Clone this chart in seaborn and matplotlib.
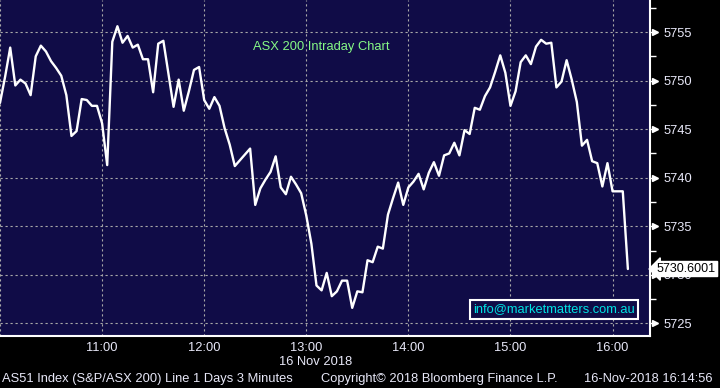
import matplotlib
matplotlib.use("Agg")
import matplotlib.pyplot as plt
import matplotlib.dates as mdates
import matplotlib.ticker as mticker
import pandas as pd
import seaborn as sns

# ---- data (3-minute bars, 16 Nov 2018) ----
times = ["10:00", "10:03", "10:06", "10:09", "10:12", "10:15", "10:18", "10:21", "10:24", "10:27",
         "10:30", "10:33", "10:36", "10:39", "10:42", "10:45", "10:48", "10:51", "10:54", "10:57",
         "11:00", "11:03", "11:06", "11:09", "11:12", "11:15", "11:18", "11:21", "11:24", "11:27",
         "11:30", "11:33", "11:36", "11:39", "11:42", "11:45", "11:48", "11:51", "11:54", "11:57",
         "12:00", "12:03", "12:06", "12:09", "12:12", "12:15", "12:18", "12:21", "12:24", "12:27",
         "12:30", "12:33", "12:36", "12:39", "12:42", "12:45", "12:48", "12:51", "12:54", "12:57",
         "13:00", "13:03", "13:06", "13:09", "13:12", "13:15", "13:18", "13:21", "13:24", "13:27",
         "13:30", "13:33", "13:36", "13:39", "13:42", "13:45", "13:48", "13:51", "13:54", "13:57",
         "14:00", "14:03", "14:06", "14:09", "14:12", "14:15", "14:18", "14:21", "14:24", "14:27",
         "14:30", "14:33", "14:36", "14:39", "14:42", "14:45", "14:48", "14:51", "14:54", "14:57",
         "15:00", "15:03", "15:06", "15:09", "15:12", "15:15", "15:18", "15:21", "15:24", "15:27",
         "15:30", "15:33", "15:36", "15:39", "15:42", "15:45", "15:48", "15:51", "15:54", "15:57",
         "16:00", "16:03", "16:06", "16:09"]
values = [5747.7, 5750.4, 5753.4, 5749.5, 5750.1, 5749.7, 5748.5, 5752.5, 5753.6, 5753.0,
          5752.0, 5751.3, 5750.5, 5748.5, 5744.3, 5744.8, 5748.1, 5748.0, 5747.4, 5747.4,
          5745.6, 5741.3, 5754.0, 5755.6, 5753.9, 5754.6, 5753.4, 5753.7, 5752.2, 5752.2,
          5748.8, 5753.8, 5754.1, 5750.7, 5747.3, 5750.1, 5746.9, 5748.9, 5751.1, 5751.4,
          5748.0, 5747.1, 5748.3, 5747.4, 5745.1, 5743.4, 5741.2, 5741.8, 5742.4, 5743.0,
          5737.2, 5738.9, 5739.8, 5740.6, 5742.2, 5739.0, 5738.3, 5740.1, 5739.3, 5738.4,
          5736.1, 5733.2, 5728.9, 5728.4, 5730.2, 5727.8, 5728.3, 5729.4, 5729.4, 5726.6,
          5728.3, 5728.2, 5731.5, 5731.3, 5732.9, 5732.7, 5736.2, 5737.9, 5739.5, 5737.2,
          5739.0, 5739.6, 5740.4, 5738.8, 5740.5, 5741.6, 5740.2, 5742.3, 5742.5, 5743.6,
          5742.3, 5744.9, 5744.5, 5747.2, 5747.0, 5748.4, 5749.3, 5750.9, 5752.6, 5750.8,
          5747.4, 5748.9, 5751.9, 5752.6, 5751.7, 5753.5, 5754.2, 5753.8, 5753.9, 5749.3,
          5749.9, 5752.1, 5750.1, 5747.8, 5743.3, 5743.9, 5741.7, 5741.5, 5739.1, 5741.5,
          5738.6, 5738.6, 5738.6, 5730.6]
last_label = "5730.6001"
title = "ASX 200 Intraday Chart"
date_label = "16 Nov 2018"
footer_left = "AS51 Index (S&P/ASX 200) Line 1 Days 3 Minutes"
footer_mid = "Copyright\u00a9 2018 Bloomberg Finance L.P."
footer_right = "16-Nov-2018 16:14:56"
contact = "info@marketmatters.com.au"

sns.set_style("dark")
plt.rcParams["font.family"] = ["Liberation Sans", "DejaVu Sans"]

BG = "#100c47"
TXT = "#e8e8f8"
FS = 9.3

df = pd.DataFrame({"time": pd.to_datetime("2018-11-16 " + pd.Series(times)),
                   "value": values})

fig = plt.figure(figsize=(7.2, 3.88), dpi=100, facecolor="black")
ax = fig.add_axes([0.0, 0.134, 650 / 720, 0.866])
ax.set_facecolor(BG)

sns.lineplot(data=df, x="time", y="value", ax=ax, color="white", lw=1.7, zorder=3)

ax.set_xlim(pd.Timestamp("2018-11-16 10:00"), pd.Timestamp("2018-11-16 16:22"))
ax.set_ylim(5723.7, 5758.3)
ax.set_xlabel("")
ax.set_ylabel("")

# x axis
ax.xaxis.set_major_locator(mdates.HourLocator())
ax.xaxis.set_major_formatter(mticker.FuncFormatter(
    lambda v, p: "" if mdates.num2date(v).hour == 10 else mdates.num2date(v).strftime("%H:%M")))
ax.xaxis.set_minor_locator(mdates.MinuteLocator(byminute=[30]))
ax.tick_params(axis="x", which="major", length=0, pad=4, labelsize=FS, colors=TXT)
ax.tick_params(axis="x", which="minor", length=4, width=1, color="white", direction="out")

# y axis on right
ax.yaxis.tick_right()
ax.yaxis.set_major_locator(mticker.MultipleLocator(5))
ax.yaxis.set_minor_locator(mticker.MultipleLocator(2.5))
ax.tick_params(axis="y", which="major", length=5, width=1, color="white", pad=5,
               labelsize=FS, labelcolor=TXT, direction="out")
ax.tick_params(axis="y", which="minor", length=4, width=1, color="white", direction="out")
ax.tick_params(axis="y", which="both", left=False)

# triangles at major y ticks
yt = [t for t in ax.get_yticks() if 5723.7 <= t <= 5758.3]
ax.plot([1.008] * len(yt), yt, ls="none", marker=">", ms=4.5, color="white",
        transform=ax.get_yaxis_transform(), clip_on=False, zorder=5)

# grid
ax.grid(True, which="major", color="#a8a8a8", ls=(0, (2, 2.5)), lw=0.8)

for s in ["top", "left"]:
    ax.spines[s].set_visible(False)
for s in ["right", "bottom"]:
    ax.spines[s].set_visible(True)
    ax.spines[s].set_color("white")
    ax.spines[s].set_linewidth(1.5)

# title
ax.text(321.5 / 650, (336 - 47) / 336, title, transform=ax.transAxes, ha="center",
        va="center", color="#86f986", fontsize=FS)

# contact box
ax.text(554 / 650, (336 - 309.5) / 336, contact, transform=ax.transAxes, ha="center",
        va="center", color="#00e3e3", fontsize=FS, zorder=6,
        bbox=dict(boxstyle="square,pad=0.25", fc=BG, ec="white", lw=1.5))

# last value label (covers the 5730 tick label, as in the original)
ax.annotate(last_label, xy=(1.0, values[-1]), xycoords=ax.get_yaxis_transform(),
            xytext=(5, 0), textcoords="offset points", ha="left", va="center",
            fontsize=9, color="black", zorder=10, annotation_clip=False,
            bbox=dict(boxstyle="larrow,pad=0.12", fc="white", ec="white"))

# date and footer
fig.text(316 / 720, 1 - 362 / 388, date_label, ha="center", va="center", color=TXT, fontsize=FS)
fig.text(2 / 720, 1 - 379 / 388, footer_left, ha="left", va="center", color=TXT, fontsize=FS)
fig.text(321 / 720, 1 - 379 / 388, footer_mid, ha="left", va="center", color=TXT, fontsize=FS)
fig.text(584 / 720, 1 - 379 / 388, footer_right, ha="left", va="center", color=TXT, fontsize=FS)

fig.savefig("out.png", dpi=100, facecolor="black")
